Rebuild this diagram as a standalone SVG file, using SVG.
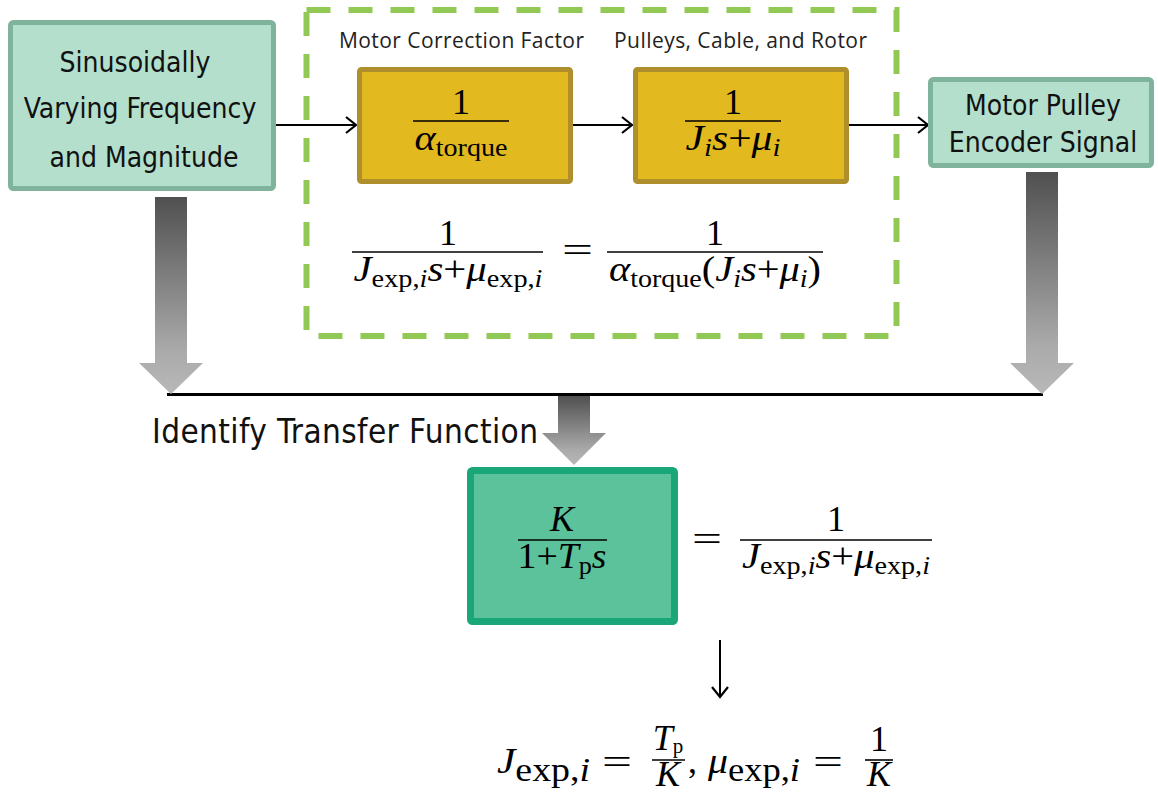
<svg xmlns="http://www.w3.org/2000/svg" width="1158" height="793" viewBox="0 0 1158 793">
  <style>
    .lbl { font-family: "DejaVu Sans Condensed", "DejaVu Sans", sans-serif; font-stretch: condensed; fill: #111; }
    .cap { font-family: "Open Sans", "Noto Sans", sans-serif; font-size: 21px; fill: #222; }
    .m { font-family: "Liberation Serif", "DejaVu Serif", serif; font-size: 36px; fill: #000; }
    .i { font-style: italic; }
    .s { font-size: 25px; }
    .bar { stroke: #000; stroke-width: 1.6; }
    .io { fill: #b3dfcc; stroke: #80b39b; stroke-width: 5; }
    .blk { fill: #e3b920; stroke: #ae8f2c; stroke-width: 5; }
    .link { stroke: #000; stroke-width: 2; fill: none; }
  </style>
  <defs>
    <marker id="chev" markerWidth="16" markerHeight="20" refX="13" refY="10" orient="auto" markerUnits="userSpaceOnUse">
      <path d="M3,2 L13,10 L3,18" fill="none" stroke="#000" stroke-width="2.2"/>
    </marker>
    <linearGradient id="grey" x1="0" y1="0" x2="0" y2="1">
      <stop offset="0" stop-color="#505050"/>
      <stop offset="0.78" stop-color="#aaaaaa"/>
      <stop offset="1" stop-color="#b8b8b8"/>
    </linearGradient>
  </defs>

  <!-- subsystem boundary -->
  <rect x="306.5" y="10" width="590" height="326" fill="none" stroke="#92c955" stroke-width="6" stroke-dasharray="24 18"/>

  <!-- connectors -->
  <g id="connectors">
    <line class="link" x1="276" y1="125" x2="356" y2="125" marker-end="url(#chev)"/>
    <line class="link" x1="573" y1="125" x2="632" y2="125" marker-end="url(#chev)"/>
    <line class="link" x1="849" y1="125" x2="928" y2="125" marker-end="url(#chev)"/>
    <line x1="167" y1="394.5" x2="1043" y2="394.5" stroke="#000" stroke-width="3"/>
    <path d="M155,197 H187 V363 H203 L171,394 L139,363 H155 Z" fill="url(#grey)"/>
    <path d="M1026,172 H1058 V363 H1074 L1042,394 L1010,363 H1026 Z" fill="url(#grey)"/>
    <path d="M558,396 H590 V433 H606 L574,465 L542,433 H558 Z" fill="url(#grey)"/>
    <line class="link" x1="720" y1="640" x2="720" y2="697" marker-end="url(#chev)"/>
  </g>

  <!-- input signal -->
  <g id="input">
    <rect class="io" x="10.5" y="22.5" width="263" height="166" rx="3"/>
    <text class="lbl" font-size="28" text-anchor="middle" x="135" y="72">Sinusoidally</text>
    <text class="lbl" font-size="28" text-anchor="middle" x="140" y="118">Varying Frequency</text>
    <text class="lbl" font-size="28" text-anchor="middle" x="144" y="167">and Magnitude</text>
  </g>

  <!-- motor correction block -->
  <g id="motor-correction">
    <text class="cap" x="339" y="48" textLength="245">Motor Correction Factor</text>
    <rect class="blk" x="359.5" y="69.5" width="211" height="112" rx="2"/>
    <text class="m" x="461" y="114" text-anchor="middle">1</text>
    <line class="bar" x1="413" y1="121" x2="509" y2="121"/>
    <text class="m" x="461" y="150" text-anchor="middle" textLength="93" lengthAdjust="spacingAndGlyphs"><tspan class="i">α</tspan><tspan class="s" dy="6">torque</tspan></text>
  </g>

  <!-- mechanical plant block -->
  <g id="plant">
    <text class="cap" x="614" y="48" textLength="253">Pulleys, Cable, and Rotor</text>
    <rect class="blk" x="635.5" y="69.5" width="211" height="112" rx="2"/>
    <text class="m" x="733" y="114" text-anchor="middle">1</text>
    <line class="bar" x1="685" y1="121" x2="781" y2="121"/>
    <text class="m" x="733" y="150" text-anchor="middle" textLength="95" lengthAdjust="spacingAndGlyphs"><tspan class="i">J</tspan><tspan class="i s" dy="6">i</tspan><tspan class="i" dy="-6">s</tspan>+<tspan class="i">μ</tspan><tspan class="i s" dy="6">i</tspan></text>
  </g>

  <!-- output signal -->
  <g id="output">
    <rect class="io" x="930.5" y="79.5" width="221" height="86" rx="3"/>
    <text class="lbl" font-size="28" text-anchor="middle" x="1043" y="115">Motor Pulley</text>
    <text class="lbl" font-size="28" text-anchor="middle" x="1043" y="152">Encoder Signal</text>
  </g>

  <!-- equivalence inside subsystem -->
  <g id="equivalence">
    <text class="m" x="448" y="245" text-anchor="middle">1</text>
    <line class="bar" x1="352" y1="252" x2="543" y2="252"/>
    <text class="m" x="448" y="281" text-anchor="middle" textLength="189" lengthAdjust="spacingAndGlyphs"><tspan class="i">J</tspan><tspan class="s" dy="6">exp,</tspan><tspan class="i s">i</tspan><tspan class="i" dy="-6">s</tspan>+<tspan class="i">μ</tspan><tspan class="s" dy="6">exp,</tspan><tspan class="i s">i</tspan></text>
    <text class="m" x="562" y="262" font-size="40" textLength="31" lengthAdjust="spacingAndGlyphs">=</text>
    <text class="m" x="715" y="245" text-anchor="middle">1</text>
    <line class="bar" x1="607" y1="252" x2="823" y2="252"/>
    <text class="m" x="715" y="281" text-anchor="middle" textLength="212" lengthAdjust="spacingAndGlyphs"><tspan class="i">α</tspan><tspan class="s" dy="6">torque</tspan><tspan dy="-6">(</tspan><tspan class="i">J</tspan><tspan class="i s" dy="6">i</tspan><tspan class="i" dy="-6">s</tspan>+<tspan class="i">μ</tspan><tspan class="i s" dy="6">i</tspan><tspan dy="-6">)</tspan></text>
  </g>

  <!-- identification step -->
  <g id="identify">
    <text class="lbl" font-size="33" x="152" y="443" textLength="386">Identify Transfer Function</text>
  </g>

  <!-- identified first-order model -->
  <g id="model">
    <rect x="470.5" y="470.5" width="204" height="151" rx="2" fill="#5bc29b" stroke="#19a77a" stroke-width="7"/>
    <text class="m i" x="562" y="531" text-anchor="middle">K</text>
    <line class="bar" x1="518" y1="540" x2="607" y2="540"/>
    <text class="m" x="562" y="568" text-anchor="middle" textLength="89" lengthAdjust="spacingAndGlyphs">1+<tspan class="i">T</tspan><tspan class="s" dy="6">p</tspan><tspan class="i" dy="-6">s</tspan></text>
    <text class="m" x="692" y="551" font-size="40" textLength="30" lengthAdjust="spacingAndGlyphs">=</text>
    <text class="m" x="836" y="531" text-anchor="middle">1</text>
    <line class="bar" x1="740" y1="540" x2="932" y2="540"/>
    <text class="m" x="836" y="568" text-anchor="middle" textLength="188" lengthAdjust="spacingAndGlyphs"><tspan class="i">J</tspan><tspan class="s" dy="6">exp,</tspan><tspan class="i s">i</tspan><tspan class="i" dy="-6">s</tspan>+<tspan class="i">μ</tspan><tspan class="s" dy="6">exp,</tspan><tspan class="i s">i</tspan></text>
  </g>

  <!-- resulting parameters -->
  <g id="parameters">
    <text class="m" x="497" y="773" font-size="48" textLength="93" lengthAdjust="spacingAndGlyphs"><tspan class="i">J</tspan><tspan font-size="33" dy="8">exp,</tspan><tspan class="i" font-size="33">i</tspan></text>
    <text class="m" x="602" y="774" font-size="44" textLength="30" lengthAdjust="spacingAndGlyphs">=</text>
    <text class="m" x="668" y="750" font-size="31" text-anchor="middle"><tspan class="i">T</tspan><tspan font-size="21" dy="3">p</tspan></text>
    <line class="bar" x1="652" y1="760" x2="685" y2="760"/>
    <text class="m i" x="668" y="786" font-size="30" text-anchor="middle">K</text>
    <text class="m" x="688" y="773" font-size="48">,</text>
    <text class="m" x="708" y="773" font-size="48" textLength="92" lengthAdjust="spacingAndGlyphs"><tspan class="i">μ</tspan><tspan font-size="33" dy="8">exp,</tspan><tspan class="i" font-size="33">i</tspan></text>
    <text class="m" x="813" y="774" font-size="44" textLength="30" lengthAdjust="spacingAndGlyphs">=</text>
    <text class="m" x="879" y="751" font-size="31" text-anchor="middle">1</text>
    <line class="bar" x1="865" y1="760" x2="893" y2="760"/>
    <text class="m i" x="879" y="786" font-size="30" text-anchor="middle">K</text>
  </g>
</svg>
